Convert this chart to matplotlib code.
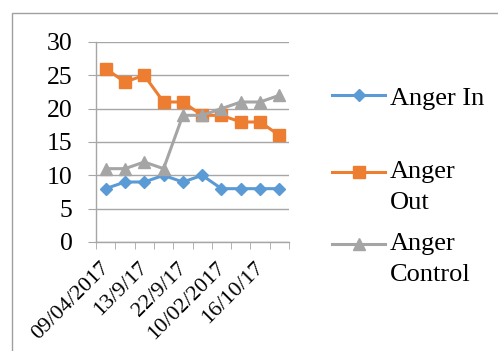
import matplotlib
matplotlib.use("Agg")
import matplotlib.pyplot as plt
from matplotlib.lines import Line2D
from matplotlib.patches import Rectangle
from matplotlib.transforms import ScaledTranslation

categories = ["09/04/2017", "", "13/9/17", "", "22/9/17", "", "10/02/2017", "", "16/10/17", ""]
anger_in = [8, 9, 9, 10, 9, 10, 8, 8, 8, 8]
anger_out = [26, 24, 25, 21, 21, 19, 19, 18, 18, 16]
anger_control = [11, 11, 12, 11, 19, 19, 20, 21, 21, 22]
series_names = ["Anger In", "Anger\nOut", "Anger\nControl"]
y_ticks = [0, 5, 10, 15, 20, 25, 30]

colors = ["#5B9BD5", "#ED7D31", "#A5A5A5"]
markers = ["D", "s", "^"]
msizes = [6.5, 8, 8]

plt.rcParams['font.family'] = ['Liberation Serif', 'DejaVu Serif']

W, H = 498, 351
fig = plt.figure(figsize=(W / 100, H / 100), dpi=100)

def fx(px):
    return px / W

def fy(py):
    return 1 - py / H

ax = fig.add_axes([fx(96), fy(242), fx(289) - fx(96), fy(42) - fy(242)])
x = list(range(len(categories)))
for vals, c, m, ms in zip([anger_in, anger_out, anger_control], colors, markers, msizes):
    ax.plot(x, vals, color=c, marker=m, markersize=ms, linewidth=2.2, zorder=3)

ax.set_xlim(-0.5, len(categories) - 0.5)
ax.set_ylim(0, 30)
ax.set_yticks(y_ticks)
ax.yaxis.grid(True, color="#A6A6A6", linewidth=1.0)
ax.set_axisbelow(True)
for s in ["top", "right"]:
    ax.spines[s].set_visible(False)
for s in ["left", "bottom"]:
    ax.spines[s].set_color("#A6A6A6")
    ax.spines[s].set_linewidth(1.0)

ax.set_xticks(x)
ax.set_xticklabels(categories, rotation=45, ha="right", va="top", rotation_mode="anchor")
ax.set_xticks([i - 0.5 for i in range(len(categories) + 1)], minor=True)
ax.tick_params(axis="x", which="major", length=0, pad=12, labelsize=16)
ax.tick_params(axis="x", which="minor", length=5, color="#A6A6A6", direction="out")
ax.tick_params(axis="y", length=6, color="#A6A6A6", pad=11, labelsize=18.5)
shift = ScaledTranslation(-6 / 100, 0, fig.dpi_scale_trans)
for lbl in ax.get_xticklabels():
    lbl.set_transform(lbl.get_transform() + shift)

# legend drawn manually
leg_y = [95, 172, 244]
base_y = [105, 178, 250]
for name, c, m, ms, ly, by in zip(series_names, colors, markers, msizes, leg_y, base_y):
    line = Line2D([fx(332), fx(358.5), fx(385)], [fy(ly)] * 3, color=c, linewidth=2.2,
                  marker=m, markersize=ms, markevery=[1], transform=fig.transFigure)
    fig.add_artist(line)
    for i, part in enumerate(name.split("\n")):
        fig.text(fx(390), fy(by + 31 * i), part, fontsize=19, va="baseline", ha="left")

rect = Rectangle((fx(12), -0.2), 1.5, fy(13) + 0.2, transform=fig.transFigure,
                 fill=False, edgecolor="#A0A0A0", linewidth=1.0)
fig.add_artist(rect)

fig.savefig("out.png", dpi=100)
